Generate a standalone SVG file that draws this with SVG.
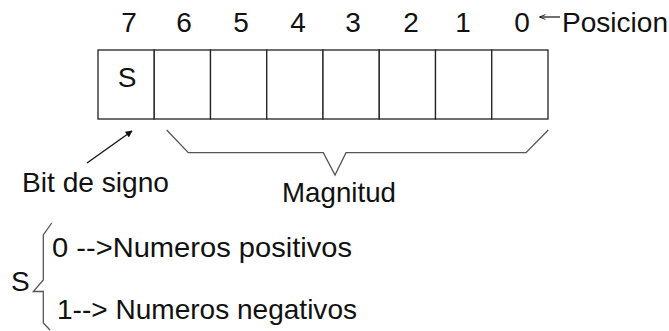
<svg xmlns="http://www.w3.org/2000/svg" width="669" height="331" viewBox="0 0 669 331">
<defs>
<style>
.t{font-family:"Liberation Sans",Arial,sans-serif;font-size:28px;fill:#111}
.c{text-anchor:middle}
.box{fill:#fff;stroke:#222;stroke-width:1.3}
.br{fill:none;stroke:#555;stroke-width:1.3}
</style>
<marker id="ah" viewBox="0 0 10 10" refX="9" refY="5" markerWidth="7" markerHeight="7" orient="auto" markerUnits="userSpaceOnUse"><path d="M0,0 L10,5 L0,10 z" fill="#111"/></marker>
<marker id="ah2" viewBox="0 0 10 10" refX="9" refY="5" markerWidth="8" markerHeight="6" orient="auto" markerUnits="userSpaceOnUse"><path d="M0,1 L10,5 L0,9" fill="none" stroke="#111" stroke-width="1.5"/></marker>
</defs>
<rect width="669" height="331" fill="#fff"/>
<g id="positions">
<text class="t c" x="129" y="32">7</text>
<text class="t c" x="184" y="32">6</text>
<text class="t c" x="241" y="32">5</text>
<text class="t c" x="298" y="32">4</text>
<text class="t c" x="353" y="32">3</text>
<text class="t c" x="411" y="32">2</text>
<text class="t c" x="463" y="32">1</text>
<text class="t c" x="522" y="32">0</text>
</g>
<g id="posicion-label">
<text class="t" x="562" y="32" textLength="106" lengthAdjust="spacingAndGlyphs">Posicion</text>
</g>
<g id="bits">
<rect class="box" x="98" y="50" width="56.25" height="69"/>
<rect class="box" x="154.25" y="50" width="56.25" height="69"/>
<rect class="box" x="210.5" y="50" width="56.25" height="69"/>
<rect class="box" x="266.75" y="50" width="56.25" height="69"/>
<rect class="box" x="323" y="50" width="56.25" height="69"/>
<rect class="box" x="379.25" y="50" width="56.25" height="69"/>
<rect class="box" x="435.5" y="50" width="56.25" height="69"/>
<rect class="box" x="491.75" y="50" width="56.25" height="69"/>
<text class="t c" x="127" y="87">S</text>
</g>
<g id="bit-de-signo">
<text class="t" x="22" y="192" textLength="147" lengthAdjust="spacingAndGlyphs">Bit de signo</text>
</g>
<g id="magnitud">
<text class="t" x="282" y="202" textLength="114" lengthAdjust="spacingAndGlyphs">Magnitud</text>
</g>
<g id="sign-legend">
<text class="t" x="11" y="291">S</text>
<text class="t" x="52" y="257" textLength="300" lengthAdjust="spacingAndGlyphs">0 --&gt;Numeros positivos</text>
<text class="t" x="57" y="319" textLength="300" lengthAdjust="spacingAndGlyphs">1--&gt; Numeros negativos</text>
</g>
<g id="connectors">
<line x1="560" y1="17" x2="540" y2="17" stroke="#111" stroke-width="1.2" marker-end="url(#ah2)"/>
<line x1="87" y1="163" x2="132" y2="131" stroke="#111" stroke-width="1.3" marker-end="url(#ah)"/>
<polyline class="br" points="166.7,130 188.3,152.7 323.3,152.7 335,175 346,152.7 526,152.7 548.3,130"/>
<polyline class="br" points="51.7,223 43.3,235 43.3,280 33.3,291.5 43.3,291.5 43.3,323 50,330"/>
</g>
</svg>
